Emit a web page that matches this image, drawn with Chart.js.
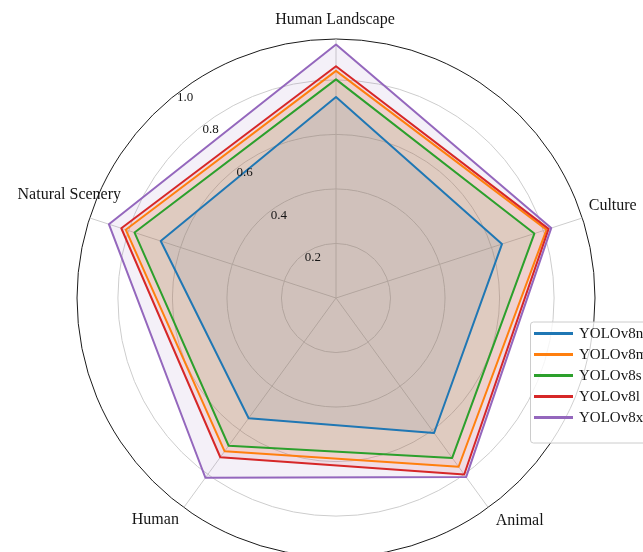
<!DOCTYPE html>
<html>
<head>
<meta charset="utf-8">
<script src="https://cdn.jsdelivr.net/npm/chart.js@4.4.0/dist/chart.umd.min.js"></script>
<style>
  html, body { margin: 0; padding: 0; width: 643px; height: 552px; overflow: hidden; background: #ffffff; }
  #wrap { position: absolute; left: -4px; top: -42px; width: 680px; height: 680px; }
</style>
</head>
<body>
<div id="wrap"><canvas id="radar" width="680" height="680"></canvas></div>
<script>
// Categories, clockwise from the top
const categories = ['Human Landscape', 'Culture', 'Animal', 'Human', 'Natural Scenery'];

// Model names in legend order
const seriesNames = ['YOLOv8n', 'YOLOv8m', 'YOLOv8s', 'YOLOv8l', 'YOLOv8x'];

// Per-category scores for each model
const yolov8n = [0.737, 0.640, 0.612, 0.545, 0.676];
const yolov8m = [0.833, 0.812, 0.765, 0.695, 0.811];
const yolov8s = [0.802, 0.765, 0.725, 0.670, 0.777];
const yolov8l = [0.850, 0.820, 0.800, 0.722, 0.828];
const yolov8x = [0.930, 0.830, 0.812, 0.815, 0.876];

// Radial rings and their labels
const ringValues = [0.2, 0.4, 0.6, 0.8];
const ringLabels = ['0.2', '0.4', '0.6', '0.8'];
const rLimit = 0.95;
const rLimitLabel = '1.0';

const seriesValues = [yolov8n, yolov8m, yolov8s, yolov8l, yolov8x];
const palette = ['#1f77b4', '#ff7f0e', '#2ca02c', '#d62728', '#9467bd'];

function withAlpha(hex, a) {
  const n = parseInt(hex.slice(1), 16);
  return `rgba(${(n >> 16) & 255},${(n >> 8) & 255},${n & 255},${a})`;
}

const SERIF = "'Liberation Serif', 'Times New Roman', serif";
const TEXT = '#151515';
const GRID = '#cdcdcd';

// small hand adjustments for the category captions (px)
const captionShift = [[-1, 0], [-1, -6], [12, -2], [-9, -3], [11, -17]];

// Ring labels, category labels and the legend box
const decorations = {
  id: 'decorations',
  afterDraw(chart) {
    const ctx = chart.ctx;
    const s = chart.scales.r;
    const cx = s.xCenter, cy = s.yCenter;
    ctx.save();

    // ring labels along a ray up and to the left
    const a = -38.6 * Math.PI / 180;
    ctx.font = `13px ${SERIF}`;
    ctx.fillStyle = TEXT;
    ctx.textAlign = 'center';
    ctx.textBaseline = 'middle';
    const rings = ringValues.concat([rLimit]);
    const texts = ringLabels.concat([rLimitLabel]);
    rings.forEach((v, i) => {
      const d = s.getDistanceFromCenterForValue(v);
      const x = cx + d * Math.sin(a) + 10.8;
      const y = cy - d * Math.cos(a) + 2.4;
      ctx.fillText(texts[i], x, y);
    });

    // category labels outside the rim
    ctx.font = `16px ${SERIF}`;
    const outer = s.drawingArea;
    categories.forEach((label, i) => {
      const px = s.getPointPosition(i, outer + 33).x + captionShift[i][0];
      const py = s.getPointPosition(i, outer + 19).y + captionShift[i][1];
      ctx.fillText(label, px, py);
    });

    // legend
    const bx = cx + 194, by = cy + 23.5, bw = 150, bh = 121;
    ctx.beginPath();
    ctx.roundRect(bx + 0.5, by + 0.5, bw, bh, 3);
    ctx.fillStyle = 'rgba(255,255,255,0.8)';
    ctx.fill();
    ctx.strokeStyle = '#cccccc';
    ctx.lineWidth = 1;
    ctx.stroke();
    ctx.font = `15px ${SERIF}`;
    ctx.textAlign = 'left';
    chart.data.datasets.forEach((ds, i) => {
      const y = by + 12 + 21 * i;
      ctx.beginPath();
      ctx.moveTo(bx + 4, y);
      ctx.lineTo(bx + 43, y);
      ctx.strokeStyle = ds.borderColor;
      ctx.lineWidth = 3.2;
      ctx.stroke();
      ctx.fillStyle = TEXT;
      ctx.fillText(ds.label, bx + 49, y + 1);
    });
    ctx.restore();
  }
};

new Chart(document.getElementById('radar'), {
  type: 'radar',
  data: {
    labels: categories,
    datasets: seriesNames.map((name, i) => ({
      label: name,
      data: seriesValues[i],
      borderColor: palette[i],
      backgroundColor: withAlpha(palette[i], 0.1),
      borderWidth: 2,
      borderJoinStyle: 'round',
      pointRadius: 0,
      pointHoverRadius: 0,
      fill: true,
      tension: 0,
      order: seriesNames.length - i
    }))
  },
  options: {
    responsive: false,
    animation: false,
    layout: { padding: 81 },
    plugins: {
      legend: { display: false },
      tooltip: { enabled: false },
      filler: { drawTime: 'beforeDatasetsDraw' }
    },
    scales: {
      r: {
        min: 0,
        max: rLimit,
        startAngle: 0,
        afterBuildTicks: (scale) => {
          scale.ticks = [0].concat(ringValues, [rLimit]).map(v => ({ value: v }));
        },
        ticks: { display: false },
        pointLabels: { display: false },
        grid: {
          circular: true,
          color: (c) => (c.tick && Math.abs(c.tick.value - rLimit) < 1e-9) ? '#1a1a1a' : GRID,
          lineWidth: 1
        },
        angleLines: { color: GRID, lineWidth: 1 }
      }
    }
  },
  plugins: [decorations]
});
</script>
</body>
</html>
